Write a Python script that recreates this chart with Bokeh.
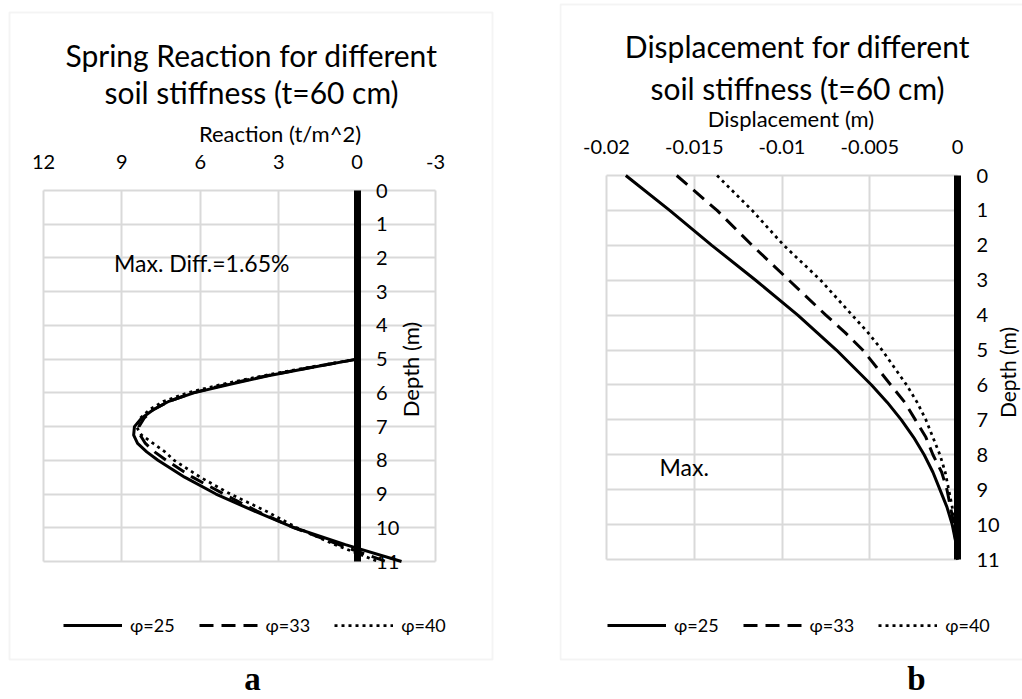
import math
from bokeh.plotting import figure
from bokeh.models import Range1d, FixedTicker, Label, Legend, LegendItem, BoxAnnotation
from bokeh.layouts import row
from bokeh.embed import file_html
from bokeh.resources import INLINE

# ---------------- data ----------------
series_names = ["φ=25", "φ=33", "φ=40"]

# (a) spring reaction vs depth
depth_a = [5.0, 5.25, 5.5, 5.75, 6.0, 6.25, 6.5, 6.75, 7.0, 7.25, 7.5, 7.75, 8.0, 8.5, 9.0, 9.5, 10.0, 10.5, 11.0]
reaction_phi25 = [0.0, 1.75, 3.45, 4.9, 6.25, 7.2, 7.8, 8.25, 8.52, 8.55, 8.4, 8.05, 7.62, 6.6, 5.4, 3.95, 2.4, 0.45, -1.7]
reaction_phi33 = [0.0, 1.8, 3.5, 5.0, 6.3, 7.2, 7.8, 8.15, 8.35, 8.3, 8.1, 7.75, 7.3, 6.3, 5.1, 3.85, 2.4, 0.7, -1.1]
reaction_phi40 = [0.0, 1.9, 3.65, 5.2, 6.5, 7.4, 7.95, 8.3, 8.45, 8.25, 7.8, 7.35, 7.0, 6.0, 4.85, 3.5, 2.3, 0.85, -0.8]

# (b) displacement vs depth
depth_b = [0, 1, 2, 3, 4, 4.5, 5, 5.5, 6, 6.5, 7, 7.5, 8, 8.5, 9, 9.5, 10, 10.5, 11]
disp_phi25 = [-0.0189, -0.0164, -0.0140, -0.0115, -0.0091, -0.0080, -0.0069, -0.0059, -0.0049, -0.0040,
              -0.0032, -0.0025, -0.0019, -0.0014, -0.0010, -0.0006, -0.0003, -0.0001, 0.0]
disp_phi33 = [-0.0160, -0.0137, -0.0117, -0.0096, -0.0075, -0.0064, -0.0054, -0.0046, -0.0038, -0.0030,
              -0.0024, -0.0018, -0.0014, -0.0009, -0.0006, -0.0004, -0.0002, -0.0001, 0.0]
disp_phi40 = [-0.0137, -0.0117, -0.0099, -0.0078, -0.0060, -0.0051, -0.0043, -0.0036, -0.0029, -0.0023,
              -0.0018, -0.0014, -0.0010, -0.0007, -0.0005, -0.0003, -0.0002, -0.0001, 0.0]

reaction_ticks = [12, 9, 6, 3, 0, -3]
reaction_tick_labels = ["12", "9", "6", "3", "0", "-3"]
disp_ticks = [-0.02, -0.015, -0.01, -0.005, 0]
disp_tick_labels = ["-0.02", "-0.015", "-0.01", "-0.005", "0"]
depth_ticks = list(range(0, 12))
depth_tick_labels = [str(d) for d in depth_ticks]

# annotation texts (positions in data units)
note_a = ("Max. Diff.=1.65%", 9.3, 2.16)
note_b = ("Max.", -0.01698, 8.35)

# ---------------- style / layout ----------------
FONT = "Lato"
GRID = "#d9d9d9"
TICK_SIZE = "20px"
AXIS_TITLE_SIZE = "22px"
TITLE_SIZE = "30px"
DASHES = [None, "14 8", "3 4"]
WIDTHS = [3, 3, 2.75]
H = 699


def span_range(p0, v0, p1, v1, lo_px, hi_px):
    """Range whose ends sit at canvas pixels lo_px / hi_px when pixel p0 shows v0 and p1 shows v1."""
    k = (v1 - v0) / (p1 - p0)
    return Range1d(v0 + (lo_px - p0) * k, v0 + (hi_px - p0) * k)


def make_fig(width, x_range, y_range):
    p = figure(width=width, height=H, x_range=x_range, y_range=y_range,
               x_axis_location="above", y_axis_location="right",
               output_backend="svg", toolbar_location=None,
               min_border=0, min_border_left=0, min_border_right=0,
               min_border_top=0, min_border_bottom=0,
               background_fill_color="white", border_fill_color="white",
               outline_line_color=None)
    p.title.visible = False
    return p


def style_axes(p, xticks, xlabels, xtitle, depth_lo, depth_hi):
    xa = p.xaxis[0]
    xa.fixed_location = depth_lo
    xa.ticker = FixedTicker(ticks=xticks)
    xa.major_label_overrides = dict(zip(xticks, xlabels))
    xa.axis_line_color = None
    xa.major_tick_line_color = None
    xa.minor_tick_line_color = None
    xa.major_tick_out = 0
    xa.major_tick_in = 0
    xa.major_label_standoff = 22
    xa.major_label_text_font = FONT
    xa.major_label_text_font_size = TICK_SIZE
    xa.major_label_text_color = "black"
    xa.axis_label = xtitle
    xa.axis_label_text_font = FONT
    xa.axis_label_text_font_style = "normal"
    xa.axis_label_text_font_size = AXIS_TITLE_SIZE
    xa.axis_label_text_color = "black"
    xa.axis_label_standoff = 5

    ya = p.yaxis[0]
    ya.fixed_location = 0
    ya.bounds = (depth_lo, depth_hi)
    ya.ticker = FixedTicker(ticks=depth_ticks)
    ya.major_label_overrides = dict(zip(depth_ticks, depth_tick_labels))
    ya.axis_line_color = "black"
    ya.axis_line_width = 7
    ya.major_tick_line_color = None
    ya.minor_tick_line_color = None
    ya.major_tick_out = 0
    ya.major_tick_in = 0
    ya.major_label_standoff = 19
    ya.major_label_text_font = FONT
    ya.major_label_text_font_size = TICK_SIZE
    ya.major_label_text_color = "black"

    xmin, xmax = min(xticks), max(xticks)
    p.xgrid.ticker = FixedTicker(ticks=xticks)
    p.xgrid.cross_bounds = (depth_lo, depth_hi)
    p.ygrid.ticker = FixedTicker(ticks=depth_ticks)
    p.ygrid.cross_bounds = (xmin, xmax)
    for g in (p.xgrid, p.ygrid):
        g.grid_line_color = GRID
        g.grid_line_width = 2


def screen_label(p, x, y, text, size, font=FONT, style="normal", angle=0.0, align="center"):
    p.add_layout(Label(x=x, y=y, x_units="screen", y_units="screen", text=text,
                       text_font=font, text_font_size=size, text_font_style=style,
                       text_color="black", text_align=align, text_baseline="middle",
                       angle=angle))


def data_label(p, note):
    text, x, y = note
    p.add_layout(Label(x=x, y=y, text=text, text_font=FONT, text_font_size="23px",
                       text_color="black", text_align="left", text_baseline="middle"))


def add_series(p, xs_list, ys, legend_xy):
    items = []
    for xs, name, dash, w in zip(xs_list, series_names, DASHES, WIDTHS):
        kw = dict(line_color="black", line_width=w)
        if dash:
            kw["line_dash"] = dash
        r = p.line(xs, ys, **kw)
        items.append(LegendItem(label=name, renderers=[r]))
    leg = Legend(items=items, location=legend_xy, orientation="horizontal",
                 glyph_width=59, glyph_height=22, label_height=22, label_standoff=8,
                 spacing=24, padding=0, margin=0, border_line_color=None,
                 background_fill_alpha=0, label_text_font=FONT,
                 label_text_font_size="18px", label_text_color="black")
    p.add_layout(leg)


def frame_box(p, left, right, top, bottom):
    p.add_layout(BoxAnnotation(left=left, right=right, top=top, bottom=bottom,
                               left_units="screen", right_units="screen",
                               top_units="screen", bottom_units="screen",
                               fill_alpha=0, line_color=GRID, line_width=2))


# ---------------- panel (a) ----------------
WA = 559
pA = make_fig(WA,
              span_range(43, reaction_ticks[0], 435, reaction_ticks[-1], 0, WA),
              span_range(561, depth_ticks[-1], 190, depth_ticks[0], H, 0))
style_axes(pA, reaction_ticks, reaction_tick_labels, "Reaction (t/m^2)", depth_ticks[0], depth_ticks[-1])
add_series(pA, [reaction_phi25, reaction_phi33, reaction_phi40], depth_a, (63, 63))
frame_box(pA, 9, 492, H - 12, H - 659)
screen_label(pA, 251, H - 54, "Spring Reaction for different", TITLE_SIZE)
screen_label(pA, 251, H - 91, "soil stiffness (t=60 cm)", TITLE_SIZE)
screen_label(pA, 410, H - 369, "Depth (m)", AXIS_TITLE_SIZE, angle=math.pi / 2)
data_label(pA, note_a)
screen_label(pA, 252, H - 678, "a", "33px", font="Liberation Serif", style="bold")

# ---------------- panel (b) ----------------
WB = 1022 - WA
OX = WA  # page x of panel (b) canvas
pB = make_fig(WB,
              span_range(606 - OX, disp_ticks[0], 957 - OX, disp_ticks[-1], 0, WB),
              span_range(559, depth_ticks[-1], 175, depth_ticks[0], H, 0))
style_axes(pB, disp_ticks, disp_tick_labels, "Displacement (m)", depth_ticks[0], depth_ticks[-1])
add_series(pB, [disp_phi25, disp_phi33, disp_phi40], depth_b, (607 - OX, 63))
frame_box(pB, 560 - OX, 1100 - OX, H - 4, H - 659)
screen_label(pB, 797 - OX, H - 45, "Displacement for different", TITLE_SIZE)
screen_label(pB, 797 - OX, H - 87, "soil stiffness (t=60 cm)", TITLE_SIZE)
screen_label(pB, 1007 - OX, H - 372, "Depth (m)", "21px", angle=math.pi / 2)
data_label(pB, note_b)
screen_label(pB, 916 - OX, H - 678, "b", "33px", font="Liberation Serif", style="bold")

layout = row(pA, pB)
open("out.html", "w").write(file_html(layout, INLINE))
